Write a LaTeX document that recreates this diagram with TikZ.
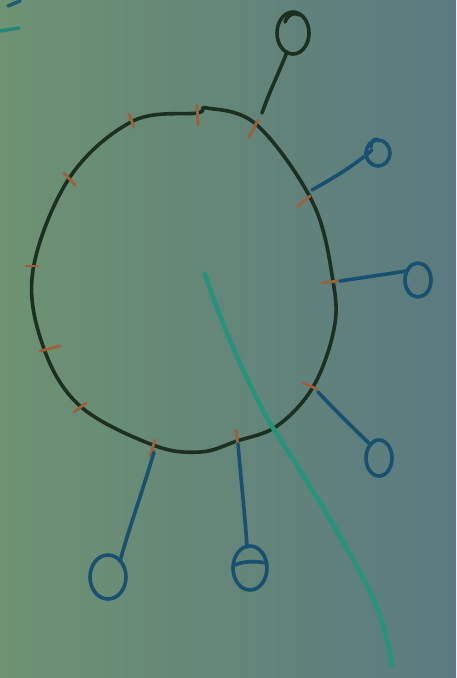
\documentclass[tikz,border=0pt]{standalone}
\usetikzlibrary{shapes.geometric}
\definecolor{paperL}{RGB}{110,146,114}
\definecolor{paperR}{RGB}{90,122,128}
\definecolor{ink}{RGB}{28,48,34}
\definecolor{tick}{RGB}{158,96,56}
\definecolor{blueink}{RGB}{24,80,112}
\definecolor{tealink}{RGB}{38,148,122}
\begin{document}
\begin{tikzpicture}[x=1pt,y=-1pt,line cap=round,line join=round,
  ring/.style={draw=ink,line width=3.6pt},
  tk/.style={draw=tick,line width=2.8pt},
  stick/.style={draw=blueink,line width=3.6pt},
  pop/.style={draw=blueink,line width=3.6pt}]
\shade[left color=paperL,right color=paperR] (0,0) rectangle (456,678);
\useasboundingbox (0,0) rectangle (456,678);
% top-left marks
\draw[draw=blueink!80!tealink,line width=3.5pt] (8,6) -- (20,1);
\draw[draw=tealink!80!blueink,line width=3.5pt] (0,31) -- (19,28);
% ring
\draw[ring] plot[smooth cycle,tension=0.6] coordinates{(207,108) (197,113) (133,121) (70,177) (33,270) (43,346) (80,406) (153,445) (200,452) (237,441) (277,426) (313,387) (334,329) (333,281) (313,203) (257,125)};
% ticks
\foreach \a/\b/\c/\d in {197/105/198/125, 129/114/134/127, 64/173/75/185, 26/266/38/266, 40/351/60/346, 74/412/86/403, 150/456/155/440, 236/430/238/446, 303/383/317/389, 322/283/338/281, 298/206/310/196, 249/137/258/120}
  \draw[tk] (\a,\b) -- (\c,\d);
% lollipop 1 (dark)
\draw[ring] (262,113) .. controls (270,90) and (278,75) .. (287,52);
\draw[ring] (293,33) ellipse (16pt and 21pt);
\draw[ring] (285,22) .. controls (288,14) and (294,12) .. (300,15);
% lollipop 2
\draw[stick] (312,190) .. controls (335,177) and (355,165) .. (372,150);
\draw[pop] (378,153) ellipse (12pt and 13pt);
\draw[pop] (371,147) .. controls (371,140) and (376,137) .. (379,141);
% lollipop 3
\draw[stick] (340,281) -- (407,271);
\draw[pop] (418,280) ellipse (13pt and 17pt);
% lollipop 4
\draw[stick] (318,392) .. controls (335,410) and (355,430) .. (371,445);
\draw[pop] (379,458) ellipse (13pt and 18pt);
% lollipop 5
\draw[stick] (238,444) .. controls (241,480) and (245,515) .. (247,547);
\draw[pop] (250,568) ellipse (17pt and 22pt);
\draw[pop] (235,565) .. controls (243,561) and (257,561) .. (266,563);
% lollipop 6
\draw[stick] (154,452) .. controls (143,490) and (130,525) .. (120,561);
\draw[pop] (108,577) ellipse (18pt and 22pt);
% teal stroke
\draw[draw=tealink,line width=4.5pt] (205,274) .. controls (220,320) and (250,390) .. (273,428) .. controls (300,470) and (345,540) .. (372,596) .. controls (382,618) and (388,640) .. (392,666);
\end{tikzpicture}
\end{document}
